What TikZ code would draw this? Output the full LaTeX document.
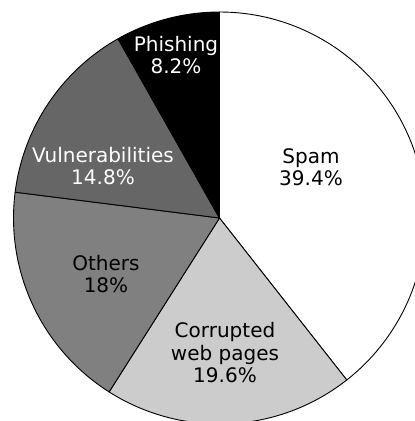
\documentclass[tikz,border=0pt]{standalone}
\usepackage{fontspec}
\setmainfont{DejaVu Sans}
\begin{document}
\begin{tikzpicture}[x=1pt,y=1pt,
  slice/.style={draw=black,line width=0.9pt,line join=round},
  lbl/.style={align=center,font=\fontsize{20}{22.5}\selectfont,inner sep=0pt}]
\useasboundingbox (0,0) rectangle (415,-421);
\clip (0,0) rectangle (415,-421);
\coordinate (c) at (219.5,-218);
\def\R{206}
\filldraw[slice,fill=white] (c) -- ++(90:\R) arc[start angle=90,end angle=-51.84,radius=\R] -- cycle;
\filldraw[slice,fill=black!20] (c) -- ++(-51.84:\R) arc[start angle=-51.84,end angle=-122.4,radius=\R] -- cycle;
\filldraw[slice,fill=black!50] (c) -- ++(-122.4:\R) arc[start angle=-122.4,end angle=-187.2,radius=\R] -- cycle;
\filldraw[slice,fill=black!60] (c) -- ++(172.8:\R) arc[start angle=172.8,end angle=119.52,radius=\R] -- cycle;
\filldraw[slice,fill=black] (c) -- ++(119.52:\R) arc[start angle=119.52,end angle=90,radius=\R] -- cycle;
\node[lbl] (spam) at (311,-167) {Spam\\39.4\%};
\node[lbl] (corr) at (225,-353) {Corrupted\\web pages\\19.6\%};
\node[lbl] (oth) at (106,-274) {Others\\18\%};
\node[lbl,text=white] (vul) at (103,-166) {Vulnerabilities\\14.8\%};
\node[lbl,text=white] (phi) at (176,-55) {Phishing\\8.2\%};
\end{tikzpicture}
\end{document}
